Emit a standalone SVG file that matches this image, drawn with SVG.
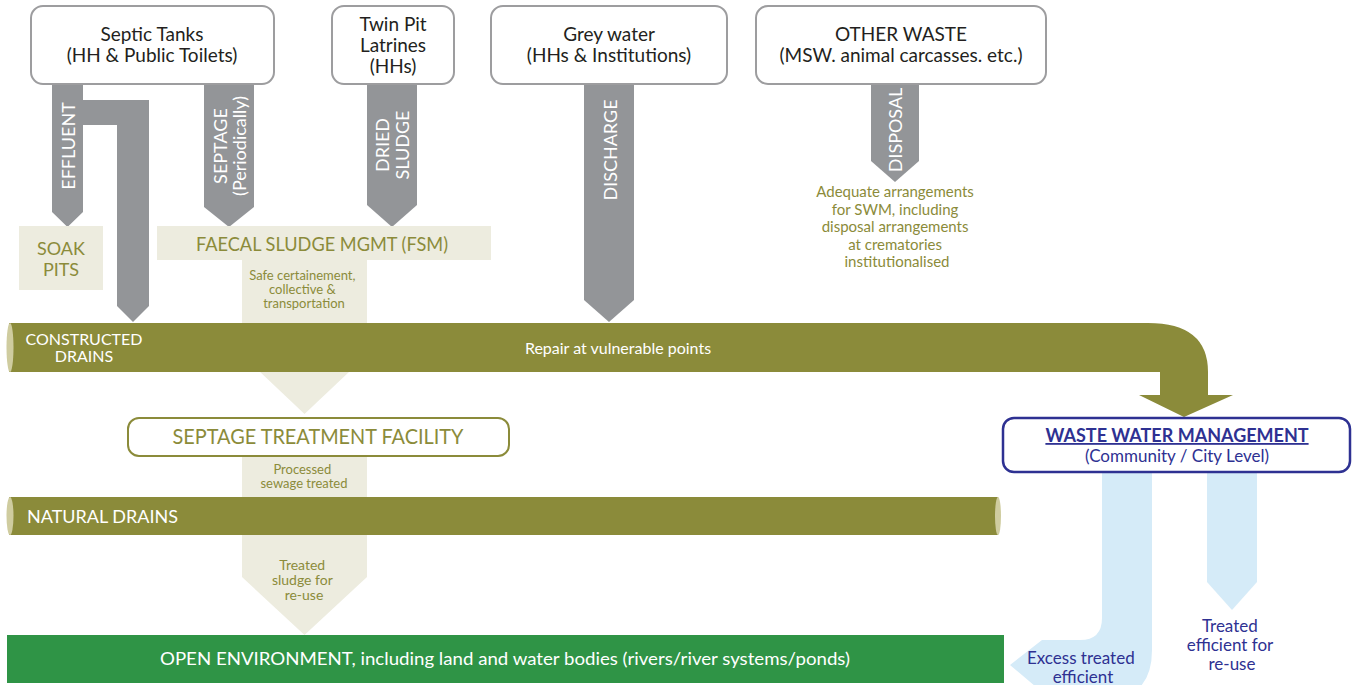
<svg xmlns="http://www.w3.org/2000/svg" width="1354" height="685" viewBox="0 0 1354 685">
  <style>
    text { font-family: Lato, "Open Sans", "Liberation Sans", sans-serif; }
    .src { fill: #ffffff; stroke: #9d9d9f; stroke-width: 2; }
    .src-t { fill: #231f20; font-size: 19px; text-anchor: middle; }
    .gray { fill: #939598; }
    .flow-t { fill: #ffffff; font-size: 18px; text-anchor: middle; }
    .beige { fill: #edecdf; }
    .olive-t { fill: #8b8b3a; text-anchor: middle; }
    .pipe { fill: #8b8b3a; }
    .cap { fill: #cfcc9f; }
    .pipe-t { fill: #ffffff; }
    .blue { fill: #d5ebf8; }
    .navy-t { fill: #2e3192; text-anchor: middle; font-size: 17px; }
  </style>

  <!-- flows between the blocks -->
  <g id="connectors">
    <!-- effluent: down to soak pits, branch across and down to the constructed drains -->
    <path class="gray" d="M52,84 H83 V100 H149 V306 L133,322 L117,306 V125 H83 V212 L67.5,227 L52,212 Z"/>
    <text class="flow-t" transform="translate(75,146) rotate(-90)">EFFLUENT</text>

    <!-- septage -->
    <path class="gray" d="M204,84 H254 V207 L229,227 L204,207 Z"/>
    <text class="flow-t" transform="translate(227,146) rotate(-90)">SEPTAGE</text>
    <text class="flow-t" transform="translate(246,146) rotate(-90)">(Periodically)</text>

    <!-- dried sludge -->
    <path class="gray" d="M367,84 H417 V205 L392,227 L367,205 Z"/>
    <text class="flow-t" transform="translate(389,145) rotate(-90)">DRIED</text>
    <text class="flow-t" transform="translate(409,145) rotate(-90)">SLUDGE</text>

    <!-- discharge -->
    <path class="gray" d="M584,84 H634 V300 L609,322 L584,300 Z"/>
    <text class="flow-t" transform="translate(617,150) rotate(-90)">DISCHARGE</text>

    <!-- disposal -->
    <path class="gray" d="M871,84 H919 V161 L895,182 L871,161 Z"/>
    <text class="flow-t" transform="translate(902,130) rotate(-90)">DISPOSAL</text>

    <!-- FSM transport column, continuing below the constructed drains -->
    <rect class="beige" x="242" y="258" width="125" height="66"/>
    <path class="beige" d="M242,330 H367 V355 L304.5,414 L242,355 Z"/>
    <text class="olive-t" style="font-size:13px">
      <tspan x="304" y="280">Safe certainement,</tspan>
      <tspan x="304" y="294">collective &amp;</tspan>
      <tspan x="304" y="308">transportation</tspan>
    </text>

    <!-- treatment facility output, passing the natural drains -->
    <path class="beige" d="M242,456 H367 V577 L304.5,635 L242,577 Z"/>
    <text class="olive-t" style="font-size:13px">
      <tspan x="304" y="474">Processed</tspan>
      <tspan x="304" y="488">sewage treated</tspan>
    </text>
    <text class="olive-t" style="font-size:14px">
      <tspan x="304" y="570">Treated</tspan>
      <tspan x="304" y="585">sludge for</tspan>
      <tspan x="304" y="600">re-use</tspan>
    </text>

    <!-- outputs of waste water management -->
    <path class="blue" d="M1102,473 H1152 V650 Q1152,700 1102,700 H1042 V692 L1010,665 L1042,640 H1080 Q1102,640 1102,618 Z"/>
    <path class="blue" d="M1207,473 H1257 V582 L1232,610 L1207,582 Z"/>
    <text class="navy-t">
      <tspan x="1083" y="664">Excess treated</tspan>
      <tspan x="1083" y="683">efficient</tspan>
    </text>
    <text class="navy-t">
      <tspan x="1232" y="632">Treated</tspan>
      <tspan x="1232" y="651">efficient for</tspan>
      <tspan x="1232" y="670">re-use</tspan>
    </text>

    <!-- solid waste note -->
    <text class="olive-t" style="font-size:15px">
      <tspan x="897" y="197">Adequate arrangements</tspan>
      <tspan x="897" y="215">for SWM, including</tspan>
      <tspan x="897" y="232">disposal arrangements</tspan>
      <tspan x="897" y="250">at crematories</tspan>
      <tspan x="897" y="267">institutionalised</tspan>
    </text>
  </g>

  <!-- sources -->
  <g id="septic-tanks">
    <rect class="src" x="31" y="6" width="243" height="78" rx="12"/>
    <text class="src-t"><tspan x="152" y="41">Septic Tanks</tspan><tspan x="152" y="62">(HH &amp; Public Toilets)</tspan></text>
  </g>
  <g id="twin-pit">
    <rect class="src" x="332" y="6" width="122" height="78" rx="12"/>
    <text class="src-t"><tspan x="393" y="31">Twin Pit</tspan><tspan x="393" y="52">Latrines</tspan><tspan x="393" y="73">(HHs)</tspan></text>
  </g>
  <g id="grey-water">
    <rect class="src" x="491" y="6" width="236" height="78" rx="12"/>
    <text class="src-t"><tspan x="609" y="41">Grey water</tspan><tspan x="609" y="62">(HHs &amp; Institutions)</tspan></text>
  </g>
  <g id="other-waste">
    <rect class="src" x="756" y="6" width="290" height="78" rx="12"/>
    <text class="src-t"><tspan x="901" y="41">OTHER WASTE</tspan><tspan x="901" y="62">(MSW. animal carcasses. etc.)</tspan></text>
  </g>

  <!-- on-site and FSM blocks -->
  <g id="soak-pits">
    <rect class="beige" x="19" y="226" width="84" height="64"/>
    <text class="olive-t" style="font-size:18px"><tspan x="61" y="255">SOAK</tspan><tspan x="61" y="276">PITS</tspan></text>
  </g>
  <g id="fsm">
    <rect class="beige" x="157" y="226" width="334" height="34"/>
    <text class="olive-t" x="322" y="251" style="font-size:19.5px" textLength="252" lengthAdjust="spacingAndGlyphs">FAECAL SLUDGE MGMT (FSM)</text>
  </g>

  <!-- constructed drains, bending down into waste water management -->
  <g id="constructed-drains">
    <path class="pipe" d="M9,323 H1148 Q1208,323 1208,372 V395 H1233 L1184,417 L1139,395 H1160 V372 H9 Z"/>
    <ellipse class="cap" cx="10" cy="347.5" rx="3.5" ry="24.5"/>
    <text class="pipe-t" style="font-size:16px" text-anchor="middle"><tspan x="84" y="345">CONSTRUCTED</tspan><tspan x="84" y="362">DRAINS</tspan></text>
    <text class="pipe-t" x="618" y="354" style="font-size:16px" text-anchor="middle">Repair at vulnerable points</text>
  </g>

  <g id="septage-treatment">
    <rect x="128" y="418" width="381" height="38" rx="11" fill="#ffffff" stroke="#8b8b3a" stroke-width="2"/>
    <text class="olive-t" x="318" y="444" style="font-size:21px" textLength="291" lengthAdjust="spacingAndGlyphs">SEPTAGE TREATMENT FACILITY</text>
  </g>

  <g id="natural-drains">
    <rect class="pipe" x="9" y="497" width="989" height="38"/>
    <ellipse class="cap" cx="10" cy="516" rx="3.5" ry="19"/>
    <ellipse class="cap" cx="998" cy="516" rx="3" ry="19"/>
    <text class="pipe-t" x="27" y="523" style="font-size:18px">NATURAL DRAINS</text>
  </g>

  <g id="open-environment">
    <rect x="7" y="635" width="997" height="48" fill="#2f9446"/>
    <text class="pipe-t" x="505" y="665" style="font-size:18px" text-anchor="middle" textLength="690" lengthAdjust="spacingAndGlyphs">OPEN ENVIRONMENT, including land and water bodies (rivers/river systems/ponds)</text>
  </g>

  <g id="waste-water-management">
    <rect x="1003" y="418" width="347" height="54" rx="11" fill="#ffffff" stroke="#2e3192" stroke-width="2.5"/>
    <text class="navy-t" x="1177" y="442" style="font-size:18px;font-weight:bold;text-decoration:underline">WASTE WATER MANAGEMENT</text>
    <text class="navy-t" x="1177" y="462">(Community / City Level)</text>
  </g>
</svg>
